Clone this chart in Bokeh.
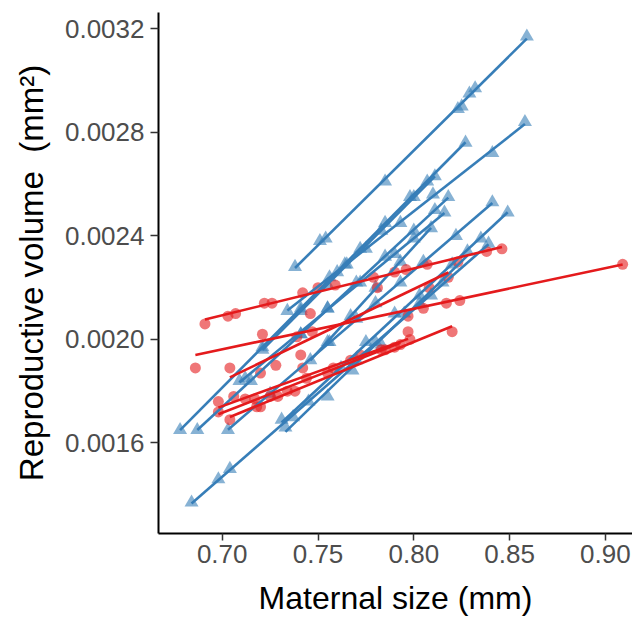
import numpy as np
from bokeh.plotting import figure
from bokeh.models import Range1d, FixedTicker, CustomJSTickFormatter
from bokeh.embed import file_html
from bokeh.resources import INLINE

# ---------------- data ----------------
# Blue groups (triangles): x = maternal size (mm), y = reproductive volume (mm^2)
blue_x = [
    [0.738, 0.751, 0.754, 0.785, 0.823, 0.825, 0.829, 0.832, 0.859],
    [0.734, 0.756, 0.764, 0.775, 0.793, 0.810, 0.841, 0.858],
    [0.678, 0.721, 0.741, 0.760, 0.772, 0.785, 0.798, 0.807, 0.827],
    [0.687, 0.715, 0.741, 0.755, 0.770, 0.785, 0.800, 0.811, 0.818],
    [0.703, 0.725, 0.756, 0.770, 0.780, 0.793, 0.805, 0.822, 0.841],
    [0.684, 0.698, 0.704, 0.745, 0.768, 0.780, 0.803, 0.815, 0.839],
    [0.731, 0.737, 0.762, 0.775, 0.790, 0.803, 0.820, 0.835, 0.849],
    [0.733, 0.755, 0.770, 0.783, 0.795, 0.809, 0.828],
    [0.709, 0.712, 0.741, 0.755, 0.772, 0.790, 0.800, 0.816],
    [0.721, 0.741, 0.755, 0.765, 0.783, 0.800, 0.811],
    [0.746, 0.755, 0.767, 0.780, 0.793, 0.809],
]
blue_y = [
    [0.00228, 0.00238, 0.00239, 0.00261, 0.00289, 0.00290, 0.00295, 0.00297, 0.00317],
    [0.00211, 0.00224, 0.00229, 0.00235, 0.00245, 0.00256, 0.00272, 0.00284],
    [0.00165, 0.00197, 0.00212, 0.00226, 0.00235, 0.00245, 0.00255, 0.00261, 0.00276],
    [0.00165, 0.00184, 0.00202, 0.00212, 0.00222, 0.00232, 0.00242, 0.00250, 0.00255],
    [0.00165, 0.00179, 0.00199, 0.00208, 0.00214, 0.00222, 0.00230, 0.00240, 0.00253],
    [0.00137, 0.00146, 0.00150, 0.00176, 0.00188, 0.00199, 0.00214, 0.00222, 0.00237],
    [0.00169, 0.00170, 0.00189, 0.00199, 0.00210, 0.00217, 0.00229, 0.00239, 0.00249],
    [0.00166, 0.00178, 0.00192, 0.00198, 0.00210, 0.00217, 0.00234],
    [0.00184, 0.00185, 0.00202, 0.00212, 0.00222, 0.00233, 0.00239, 0.00249],
    [0.00196, 0.00211, 0.00221, 0.00229, 0.00242, 0.00255, 0.00263],
    [0.00192, 0.00199, 0.00209, 0.00220, 0.00230, 0.00243],
]

# Red groups (circles)
red_x = [
    [0.691, 0.703, 0.707, 0.722, 0.726, 0.742, 0.750, 0.759, 0.779, 0.790, 0.796, 0.807, 0.823, 0.838, 0.846],
    [0.686, 0.721, 0.746, 0.797, 0.805, 0.817, 0.824, 0.909],
    [0.704, 0.720, 0.728, 0.741, 0.747, 0.739, 0.781, 0.808, 0.818],
    [0.704, 0.720, 0.725, 0.790, 0.798, 0.820],
    [0.698, 0.706, 0.717, 0.734, 0.744, 0.758, 0.772, 0.785, 0.797],
    [0.698, 0.712, 0.718, 0.729, 0.738, 0.742, 0.755, 0.767, 0.783, 0.793],
]
red_y = [
    [0.00206, 0.00209, 0.00210, 0.00214, 0.00214, 0.00218, 0.00220, 0.00221, 0.00224, 0.00226, 0.00227, 0.00229, 0.00230, 0.00234, 0.00235],
    [0.00189, 0.00202, 0.00210, 0.00209, 0.00212, 0.00214, 0.00215, 0.00229],
    [0.00189, 0.00187, 0.00190, 0.00194, 0.00203, 0.00201, 0.00220, 0.00220, 0.00224],
    [0.00169, 0.00174, 0.00178, 0.00197, 0.00200, 0.00203],
    [0.00176, 0.00178, 0.00177, 0.00180, 0.00185, 0.00189, 0.00194, 0.00196, 0.00203],
    [0.00172, 0.00177, 0.00174, 0.00178, 0.00180, 0.00189, 0.00187, 0.00192, 0.00196, 0.00198],
]

x_ticks = [0.70, 0.75, 0.80, 0.85, 0.90]
y_ticks = [0.0016, 0.0020, 0.0024, 0.0028, 0.0032]

BLUE = "#377EB8"
RED = "#E41A1C"
FONT = "Liberation Sans"

p = figure(
    width=632, height=619,
    output_backend="svg", toolbar_location=None,
    x_range=Range1d(0.66675, 0.91414),
    y_range=Range1d(0.0012504, 0.0032628),
    min_border_left=158, min_border_right=0, min_border_top=12, min_border_bottom=86,
)
p.outline_line_color = None
p.xgrid.visible = False
p.ygrid.visible = False
p.background_fill_color = "white"

# points
for xs, ys in zip(blue_x, blue_y):
    p.scatter(xs, ys, marker="triangle", size=14, fill_color=BLUE, fill_alpha=0.6, line_color=None)
for xs, ys in zip(red_x, red_y):
    p.scatter(xs, ys, marker="circle", size=11, fill_color=RED, fill_alpha=0.6, line_color=None)

# linear fits per group
for xs, ys in zip(blue_x, blue_y):
    xa = np.array(xs); ya = np.array(ys)
    b, a = np.polyfit(xa, ya, 1)
    x0, x1 = xa.min(), xa.max()
    p.line([x0, x1], [a + b * x0, a + b * x1], line_color=BLUE, line_width=2.6)
for xs, ys in zip(red_x, red_y):
    xa = np.array(xs); ya = np.array(ys)
    b, a = np.polyfit(xa, ya, 1)
    x0, x1 = xa.min(), xa.max()
    p.line([x0, x1], [a + b * x0, a + b * x1], line_color=RED, line_width=2.6)

# axes
for ax in (p.xaxis[0], p.yaxis[0]):
    ax.axis_line_color = "black"
    ax.axis_line_width = 2
    ax.major_tick_line_color = "#333333"
    ax.major_tick_line_width = 1.5
    ax.major_tick_in = 0
    ax.minor_tick_line_color = None
    ax.major_label_text_color = "#4D4D4D"
    ax.major_label_text_font = FONT
    ax.major_label_text_font_size = "26px"
    ax.axis_label_text_font = FONT
    ax.axis_label_text_font_style = "normal"
    ax.axis_label_text_color = "black"

p.xaxis.axis_label_text_font_size = "32px"
p.yaxis.axis_label_text_font_size = "33px"
p.xaxis.ticker = FixedTicker(ticks=x_ticks)
p.yaxis.ticker = FixedTicker(ticks=y_ticks)
p.xaxis.formatter = CustomJSTickFormatter(code="return tick.toFixed(2);")
p.yaxis.formatter = CustomJSTickFormatter(code="return tick.toFixed(4);")
p.xaxis.major_tick_out = 7
p.yaxis.major_tick_out = 8
p.xaxis.major_label_standoff = 4
p.yaxis.major_label_standoff = 6
p.xaxis.axis_label = "Maternal size (mm)"
p.yaxis.axis_label = "Reproductive volume\u00a0\u00a0(mm\u00b2)"
p.xaxis.axis_label_standoff = 14
p.yaxis.axis_label_standoff = 12

open("out.html", "w").write(file_html(p, INLINE))
